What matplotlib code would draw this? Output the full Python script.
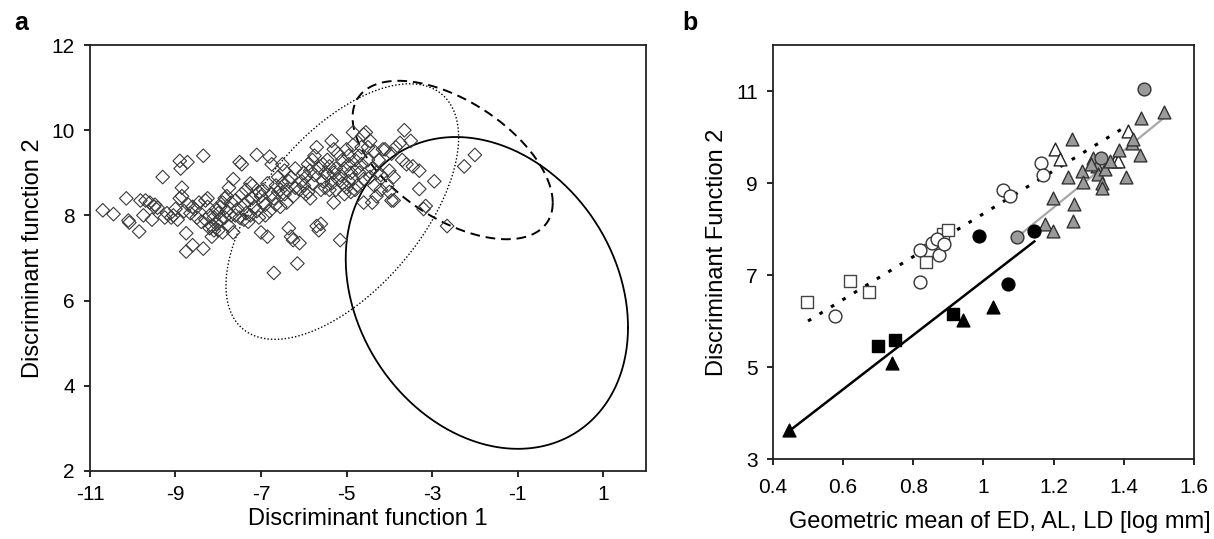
import numpy as np
import matplotlib.pyplot as plt

plt.rcParams['font.family'] = ['Liberation Sans', 'DejaVu Sans']
plt.rcParams['axes.unicode_minus'] = False

# ---- panel a: discriminant scores (DF1, DF2) ----
pts_a = [
    (-10.7, 8.12), (-10.45, 8.03), (-10.15, 8.4), (-10.1, 7.88), (-10.08, 7.83),
    (-9.85, 7.62), (-9.82, 8.35), (-9.75, 8.0), (-9.7, 8.35), (-9.55, 7.9),
    (-9.5, 8.2), (-9.48, 8.25), (-9.42, 8.18), (-9.3, 8.9), (-9.25, 7.95),
    (-9.1, 7.95), (-9.05, 8.0), (-9.0, 8.15), (-8.9, 9.28), (-8.88, 9.1),
    (-8.85, 8.65), (-8.72, 9.25), (-8.35, 9.4), (-8.9, 8.4), (-8.85, 8.45),
    (-8.7, 8.25), (-8.75, 7.58), (-8.75, 7.15), (-8.6, 7.3), (-8.35, 7.22),
    (-8.6, 8.2), (-8.55, 8.15), (-8.5, 7.95), (-8.4, 7.85), (-8.3, 8.35),
    (-8.25, 8.4), (-8.2, 7.7), (-8.15, 7.5), (-8.1, 7.95), (-8.05, 7.8),
    (-8.0, 7.65), (-8.0, 8.05), (-7.95, 7.9), (-7.9, 8.3), (-7.85, 8.4),
    (-7.8, 8.1), (-7.75, 8.65), (-7.7, 8.3), (-7.65, 7.6), (-7.65, 8.85),
    (-7.6, 8.0), (-7.55, 8.15), (-7.5, 9.25), (-7.45, 9.2), (-7.4, 8.25),
    (-7.35, 8.05), (-7.3, 7.85), (-7.25, 8.75), (-7.2, 8.4), (-7.15, 8.2),
    (-7.1, 9.42), (-7.05, 8.55), (-7.0, 7.6), (-6.95, 8.3), (-6.9, 8.0),
    (-6.85, 7.5), (-6.8, 9.38), (-6.75, 9.2), (-6.75, 8.5), (-6.7, 6.65),
    (-6.65, 8.7), (-6.6, 8.9), (-6.55, 8.6), (-6.5, 9.2), (-6.45, 8.5),
    (-6.4, 8.3), (-6.35, 7.7), (-6.3, 7.5), (-6.25, 7.42), (-6.2, 8.65),
    (-6.15, 6.87), (-6.1, 7.35), (-6.05, 8.8), (-6.0, 9.0), (-5.95, 8.5),
    (-5.9, 9.2), (-5.85, 8.4), (-5.8, 9.3), (-5.75, 8.95), (-5.7, 9.6),
    (-5.7, 7.75), (-5.65, 7.65), (-5.6, 7.8), (-5.55, 8.8), (-5.5, 9.0),
    (-5.45, 9.3), (-5.4, 8.6), (-5.35, 9.75), (-5.3, 8.3), (-5.25, 9.1),
    (-5.2, 8.85), (-5.15, 7.42), (-5.1, 9.3), (-5.05, 8.5), (-5.0, 9.55),
    (-4.95, 8.8), (-4.9, 9.0), (-4.85, 9.95), (-4.8, 8.6), (-4.75, 9.1),
    (-4.7, 9.4), (-4.6, 9.9), (-4.55, 9.95), (-4.5, 9.6), (-4.45, 8.9),
    (-4.4, 8.3), (-4.3, 9.0), (-4.2, 8.6), (-4.15, 9.55), (-4.0, 9.05),
    (-3.95, 8.35), (-3.85, 9.6), (-3.75, 9.7), (-3.65, 10.0), (-3.6, 9.2),
    (-3.5, 9.75), (-3.3, 9.05), (-3.3, 8.62), (-2.95, 8.8), (-3.15, 8.22),
    (-3.2, 8.15), (-2.65, 7.75), (-2.25, 9.15), (-2.0, 9.42),
    (-8.3, 7.9), (-8.2, 8.0), (-8.15, 7.75), (-8.1, 7.65), (-8.05, 8.15),
    (-7.95, 8.2), (-7.9, 7.6), (-7.85, 7.95), (-7.8, 8.45), (-7.7, 8.0),
    (-7.6, 8.35), (-7.5, 7.95), (-7.45, 8.5), (-7.4, 7.9), (-7.3, 8.35),
    (-7.25, 8.0), (-7.2, 8.7), (-7.1, 8.1), (-7.05, 7.95), (-7.0, 8.45),
    (-6.95, 8.6), (-6.9, 8.25), (-6.85, 8.75), (-6.8, 8.1), (-6.7, 8.4),
    (-6.6, 8.55), (-6.55, 8.2), (-6.5, 8.75), (-6.45, 9.05), (-6.4, 8.6),
    (-6.3, 8.9), (-6.25, 8.45), (-6.2, 9.1), (-6.1, 8.6), (-6.0, 8.7),
    (-5.95, 8.9), (-5.9, 8.55), (-5.8, 8.75), (-5.75, 9.4), (-5.65, 9.1),
    (-5.6, 8.6), (-5.5, 8.65), (-5.45, 8.95), (-5.4, 9.15), (-5.35, 8.75),
    (-5.3, 9.0), (-5.25, 8.6), (-5.2, 9.45), (-5.1, 8.75), (-5.05, 9.1),
    (-5.0, 8.65), (-4.95, 9.2), (-4.9, 8.55), (-4.85, 8.85), (-4.8, 9.3),
    (-4.75, 8.7), (-4.7, 9.0), (-4.65, 9.6), (-4.6, 8.85), (-4.5, 9.3),
    (-4.45, 9.75), (-4.4, 9.1), (-4.35, 9.5), (-4.25, 9.3), (-4.2, 8.95),
    (-4.1, 9.55), (-4.05, 8.7), (-3.95, 9.45), (-3.9, 8.9), (-4.6, 8.3),
    (-4.3, 8.45), (-4.0, 8.55), (-3.9, 8.35), (-8.45, 8.3), (-8.65, 8.05),
    (-9.2, 8.05), (-9.6, 8.3), (-8.95, 7.9), (-8.8, 8.1), (-8.25, 8.2),
    (-7.75, 7.75), (-7.35, 8.6), (-6.65, 8.25), (-6.35, 8.8), (-5.85, 9.05),
    (-5.55, 9.2), (-5.15, 8.95), (-4.95, 9.4), (-4.65, 9.2), (-4.35, 8.7),
    (-3.7, 9.3), (-3.45, 9.15), (-4.85, 9.65), (-5.3, 9.55),
]

# ellipses: centre x, centre y, half-range x, half-range y, correlation
ell_cx = [-5.1, -2.52, -1.72]
ell_cy = [8.09, 9.3, 6.18]
ell_sx = [2.72, 2.34, 3.3]
ell_sy = [3.0, 1.86, 3.66]
ell_r = [0.58, -0.54, -0.22]
ell_ls = [(0, (1, 1.5)), (0, (5, 3)), '-']
ell_lw = [1.0, 1.4, 1.3]

# ---- panel b: DF2 vs geometric mean size ----
osq_x = [0.498, 0.62, 0.675, 0.835, 0.847, 0.886, 0.90]
osq_y = [6.41, 6.86, 6.64, 7.28, 7.54, 7.89, 7.98]
ocir_x = [0.577, 0.819, 0.818, 0.852, 0.867, 0.873, 0.888, 1.055, 1.075, 1.164, 1.169]
ocir_y = [6.10, 6.84, 7.55, 7.70, 7.78, 7.43, 7.68, 8.84, 8.72, 9.44, 9.17]
otri_x = [1.204, 1.218, 1.413, 1.375, 1.384]
otri_y = [9.73, 9.52, 10.13, 9.48, 9.48]
gtri_x = [1.253, 1.24, 1.282, 1.283, 1.197, 1.258, 1.254, 1.175, 1.199, 1.311,
          1.323, 1.327, 1.337, 1.337, 1.346, 1.36, 1.387, 1.406, 1.422, 1.427,
          1.446, 1.45, 1.515, 1.306]
gtri_y = [9.95, 9.13, 9.26, 9.03, 8.67, 8.54, 8.18, 8.11, 7.96, 9.55,
          9.37, 9.19, 9.01, 8.90, 9.30, 9.48, 9.71, 9.13, 9.88, 9.95,
          9.61, 10.41, 10.54, 9.41]
gcir_x = [1.457, 1.335, 1.095]
gcir_y = [11.04, 9.55, 7.83]
bcir_x = [0.988, 1.144, 1.071]
bcir_y = [7.85, 7.96, 6.81]
bsq_x = [0.70, 0.748, 0.912]
bsq_y = [5.45, 5.59, 6.16]
btri_x = [0.738, 0.941, 1.026, 0.447]
btri_y = [5.08, 6.03, 6.31, 3.62]

# fitted lines (x ends, y ends)
fit_open_x, fit_open_y = [0.5, 1.40], [6.0, 10.2]
fit_black_x, fit_black_y = [0.45, 1.145], [3.63, 7.73]
fit_gray_x, fit_gray_y = [1.105, 1.515], [7.88, 10.42]

fig = plt.figure(figsize=(12.14, 5.39), dpi=100)
ax1 = fig.add_axes([0.0741, 0.1262, 0.458, 0.7903])
ax2 = fig.add_axes([0.6367, 0.1484, 0.3468, 0.7681])

pa = np.array(pts_a)
ax1.scatter(pa[:, 0], pa[:, 1], marker='D', s=48, facecolors='none',
            edgecolors='#3a3a3a', linewidths=0.8, zorder=3)

t = np.linspace(0, 2 * np.pi, 400)
for i in range(3):
    phi = np.arccos(ell_r[i])
    ex = ell_cx[i] + ell_sx[i] * np.cos(t)
    ey = ell_cy[i] + ell_sy[i] * np.cos(t + phi)
    ax1.plot(ex, ey, color='black', ls=ell_ls[i], lw=ell_lw[i], zorder=2)

ax1.set_xlim(-11, 2)
ax1.set_ylim(2, 12)
ax1.set_xticks([-11, -9, -7, -5, -3, -1, 1])
ax1.set_yticks([2, 4, 6, 8, 10, 12])
ax1.set_xlabel('Discriminant function 1', fontsize=17, labelpad=3)
ax1.set_ylabel('Discriminant function 2', fontsize=17, labelpad=5)
ax1.tick_params(axis='x', pad=6)
ax1.tick_params(axis='y', pad=7)

# panel b
ax2.plot(fit_open_x, fit_open_y, color='black', lw=2.2, ls=(0, (1.2, 3.2)), zorder=2)
ax2.plot(fit_black_x, fit_black_y, color='black', lw=1.8, zorder=2)
ax2.plot(fit_gray_x, fit_gray_y, color='#a8a8a8', lw=1.6, zorder=2)

ms = 85
ax2.scatter(osq_x, osq_y, marker='s', s=ms, facecolors='white', edgecolors='#444444', linewidths=1.0, zorder=3)
ax2.scatter(ocir_x, ocir_y, marker='o', s=ms, facecolors='white', edgecolors='#333333', linewidths=1.0, zorder=3)
ax2.scatter(otri_x, otri_y, marker='^', s=ms, facecolors='white', edgecolors='#222222', linewidths=1.0, zorder=3)
ax2.scatter(gtri_x, gtri_y, marker='^', s=ms, facecolors='#9a9a9a', edgecolors='#333333', linewidths=1.0, zorder=3)
ax2.scatter(gcir_x, gcir_y, marker='o', s=ms, facecolors='#9a9a9a', edgecolors='#333333', linewidths=1.0, zorder=3)
ax2.scatter(bcir_x, bcir_y, marker='o', s=ms, facecolors='black', edgecolors='black', linewidths=1.0, zorder=3)
ax2.scatter(bsq_x, bsq_y, marker='s', s=ms, facecolors='black', edgecolors='black', linewidths=1.0, zorder=3)
ax2.scatter(btri_x, btri_y, marker='^', s=ms, facecolors='black', edgecolors='black', linewidths=1.0, zorder=3)

ax2.set_xlim(0.4, 1.6)
ax2.set_ylim(3, 12)
ax2.set_xticks([0.4, 0.6, 0.8, 1.0, 1.2, 1.4, 1.6])
ax2.set_xticklabels(['0.4', '0.6', '0.8', '1', '1.2', '1.4', '1.6'])
ax2.set_yticks([3, 5, 7, 9, 11])
ax2.set_xlabel('Geometric mean of ED, AL, LD [log mm]', fontsize=17, labelpad=6)
ax2.xaxis.set_label_coords(0.54, -0.125)
ax2.set_ylabel('Discriminant Function 2', fontsize=17, labelpad=6)
ax2.tick_params(axis='x', pad=10)
ax2.tick_params(axis='y', pad=7)

for ax in (ax1, ax2):
    for sp in ax.spines.values():
        sp.set_linewidth(1.3)
        sp.set_color('#222222')
    ax.tick_params(direction='out', length=4, width=1.2, labelsize=15)

fig.text(0.012, 0.945, 'a', fontsize=18, fontweight='bold')
fig.text(0.562, 0.945, 'b', fontsize=18, fontweight='bold')

fig.savefig('out.png', dpi=100)
